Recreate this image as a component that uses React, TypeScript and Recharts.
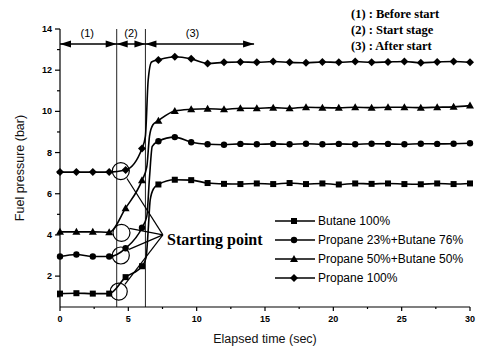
import React from 'react';
import { LineChart, Line, XAxis, YAxis, ReferenceLine, ReferenceDot } from 'recharts';

// sample times where the plotted symbols sit (every 1.2 s)
const markTimes = [0, 1.2, 2.4, 3.6, 4.8, 6, 7.2, 8.4, 9.6, 10.8, 12, 13.2, 14.4, 15.6, 16.8, 18, 19.2, 20.4, 21.6, 22.8, 24, 25.2, 26.4, 27.6, 28.8, 30];

const butane100 = [1.15, 1.17, 1.15, 1.15, 1.95, 2.48, 6.45, 6.68, 6.66, 6.52, 6.48, 6.47, 6.5, 6.47, 6.52, 6.47, 6.5, 6.45, 6.5, 6.48, 6.5, 6.47, 6.46, 6.5, 6.47, 6.5];
const propane23 = [2.95, 3.05, 2.95, 2.95, 3.35, 4.35, 8.55, 8.75, 8.5, 8.4, 8.38, 8.42, 8.4, 8.42, 8.4, 8.43, 8.4, 8.42, 8.4, 8.43, 8.42, 8.4, 8.43, 8.42, 8.43, 8.45];
const propane50 = [4.15, 4.15, 4.15, 4.13, 5.3, 6.65, 9.55, 10.02, 10.1, 10.13, 10.1, 10.15, 10.15, 10.18, 10.15, 10.2, 10.18, 10.17, 10.2, 10.18, 10.2, 10.2, 10.18, 10.2, 10.22, 10.28];
const propane100 = [7.05, 7.05, 7.05, 7.05, 7.15, 8.2, 12.5, 12.65, 12.55, 12.33, 12.38, 12.4, 12.38, 12.42, 12.38, 12.36, 12.4, 12.38, 12.42, 12.38, 12.4, 12.42, 12.36, 12.4, 12.42, 12.38];

// extra points (no symbol) on the fast pressure rise
const butaneRiseT = [6.3, 6.45, 6.6, 6.85];
const butaneRiseV = [2.9, 4.2, 5.7, 6.25];
const propane23RiseT = [6.35, 6.55, 6.75];
const propane23RiseV = [4.9, 6.8, 8.3];
const propane50RiseT = [6.35, 6.55, 6.8];
const propane50RiseV = [7.3, 8.8, 9.35];
const propane100RiseT = [6.25, 6.45, 6.7];
const propane100RiseV = [8.8, 11.5, 12.4];

// stage boundaries and starting points
const stageBounds = [4.15, 6.25];
const stageArrowEnd = 14.2;
const stageLabels = ['(1)', '(2)', '(3)'];
const stageLabelX = [2.0, 5.2, 9.7];
const startCircleX = [4.45, 4.5, 4.45, 4.3];
const startCircleY = [7.1, 4.1, 3.0, 1.25];

const yTicks = [1, 2, 3, 4, 5, 6, 7, 8, 9, 10, 11, 12, 13, 14];
const xTicks = [0, 2.5, 5, 7.5, 10, 12.5, 15, 17.5, 20, 22.5, 25, 27.5, 30];

const build = (vals: number[], riseT: number[], riseV: number[]) =>
  [
    ...markTimes.map((t, i) => ({ t, v: vals[i], mark: true })),
    ...riseT.map((t, i) => ({ t, v: riseV[i], mark: false })),
  ].sort((a, b) => a.t - b.t);

const series = [
  { name: 'Butane 100%', shape: 'square', data: build(butane100, butaneRiseT, butaneRiseV) },
  { name: 'Propane 23%+Butane 76%', shape: 'circle', data: build(propane23, propane23RiseT, propane23RiseV) },
  { name: 'Propane 50%+Butane 50%', shape: 'triangle', data: build(propane50, propane50RiseT, propane50RiseV) },
  { name: 'Propane 100%', shape: 'diamond', data: build(propane100, propane100RiseT, propane100RiseV) },
];

const SANS = '"Liberation Sans", Arial, sans-serif';
const SERIF = '"Liberation Serif", "Times New Roman", serif';

const Marker = ({ shape, cx, cy }: { shape: string; cx: number; cy: number }) => {
  if (shape === 'square') return <rect x={cx - 3} y={cy - 3} width={6} height={6} fill="#000" />;
  if (shape === 'circle') return <circle cx={cx} cy={cy} r={3.2} fill="#000" />;
  if (shape === 'triangle')
    return <polygon points={`${cx},${cy - 4} ${cx + 4},${cy + 3} ${cx - 4},${cy + 3}`} fill="#000" />;
  return <polygon points={`${cx},${cy - 4} ${cx + 4},${cy} ${cx},${cy + 4} ${cx - 4},${cy}`} fill="#000" />;
};

const YTick = ({ x, y, payload }: any) => {
  const major = payload.value % 2 === 0;
  return (
    <g>
      <line x1={x - (major ? 5 : 3)} x2={x} y1={y} y2={y} stroke="#000" strokeWidth={1.2} />
      {major && (
        <text x={x - 8} y={y + 3} textAnchor="end" fontSize={9} fontWeight="bold" fontFamily={SANS} fill="#000">
          {payload.value}
        </text>
      )}
    </g>
  );
};

const XTick = ({ x, y, payload }: any) => {
  const major = payload.value % 5 === 0;
  return (
    <g>
      <line x1={x} x2={x} y1={y} y2={y + (major ? 4 : 2)} stroke="#000" strokeWidth={1.2} />
      {major && (
        <text x={x} y={y + 15} textAnchor="middle" fontSize={9} fontWeight="bold" fontFamily={SANS} fill="#000">
          {payload.value}
        </text>
      )}
    </g>
  );
};

const YTitle = ({ viewBox }: any) => {
  const cx = viewBox.x + 10;
  const cy = viewBox.y + viewBox.height / 2;
  return (
    <text x={cx} y={cy} transform={`rotate(-90 ${cx} ${cy})`} textAnchor="middle" dominantBaseline="central"
      fontSize={12.5} fontFamily={SANS} fill="#111">
      Fuel pressure (bar)
    </text>
  );
};

const XTitle = ({ viewBox }: any) => (
  <text x={viewBox.x + viewBox.width / 2} y={viewBox.y + 36} textAnchor="middle" fontSize={12.5} fontFamily={SANS} fill="#111">
    Elapsed time (sec)
  </text>
);

const arrowHead = (dir: number) => (p: any) => (
  <polygon
    points={`${p.cx},${p.cy} ${p.cx - dir * 11},${p.cy - 3.5} ${p.cx - dir * 11},${p.cy + 3.5}`}
    fill="#000"
  />
);

const textShape = (label: string, size: number, family: string, weight: string, anchor: string) => (p: any) => (
  <text x={p.cx} y={p.cy} textAnchor={anchor} dominantBaseline="central" fontSize={size} fontFamily={family}
    fontWeight={weight} fill="#000">
    {label}
  </text>
);

const LegendBox = () => (
  <svg width={210} height={80} style={{ position: 'absolute', left: 270, top: 210 }}>
    {series.map((s, i) => {
      const y = 11 + i * 19;
      return (
        <g key={s.name}>
          <line x1={5} x2={45} y1={y} y2={y} stroke="#000" strokeWidth={1.4} />
          <Marker shape={s.shape} cx={24} cy={y} />
          <text x={48} y={y} dominantBaseline="central" fontSize={12} fontFamily={SANS} fill="#000">
            {s.name}
          </text>
        </g>
      );
    })}
  </svg>
);

const StageNotes = () => (
  <div style={{ position: 'absolute', left: 351, top: 6, fontFamily: SERIF, fontWeight: 'bold', fontSize: 12.5, lineHeight: '16px', color: '#000' }}>
    <div>(1) : Before start</div>
    <div>(2) : Start stage</div>
    <div>(3) : After start</div>
  </div>
);

export default function App() {
  const starting = { x: 7.53, y: 4.0 };
  const leaderEnds = [
    { x: 4.9, y: 6.74 },
    { x: 5.08, y: 4.32 },
    { x: 5.05, y: 3.3 },
    { x: 4.75, y: 1.6 },
  ];
  return (
    <div style={{ position: 'absolute', left: 0, top: 0, width: 484, height: 349, background: '#fff' }}>
      <LineChart width={484} height={349} margin={{ top: 29, right: 14, left: 10, bottom: 2 }}>
        <XAxis
          dataKey="t"
          type="number"
          domain={[0, 30]}
          ticks={xTicks}
          interval={0}
          height={40}
          tickSize={0}
          tickMargin={0}
          tick={<XTick />}
          tickLine={false}
          axisLine={{ stroke: '#000', strokeWidth: 1.2 }}
          label={<XTitle />}
        />
        <YAxis
          type="number"
          domain={[0.5, 14]}
          ticks={yTicks}
          interval={0}
          width={50}
          tickSize={0}
          tickMargin={0}
          tick={<YTick />}
          tickLine={false}
          axisLine={{ stroke: '#000', strokeWidth: 1.2 }}
          label={<YTitle />}
        />
        {stageBounds.map((b) => (
          <ReferenceLine key={b} x={b} stroke="#222" strokeWidth={1} />
        ))}
        <ReferenceLine segment={[{ x: 0, y: 13.27 }, { x: stageArrowEnd, y: 13.27 }]} stroke="#000" strokeWidth={1.4} />
        {[0, stageBounds[0], stageBounds[1]].map((x) => (
          <ReferenceDot key={`l${x}`} x={x} y={13.27} shape={arrowHead(-1)} />
        ))}
        {[stageBounds[0], stageBounds[1], stageArrowEnd].map((x) => (
          <ReferenceDot key={`r${x}`} x={x} y={13.27} shape={arrowHead(1)} />
        ))}
        {stageLabels.map((l, i) => (
          <ReferenceDot key={l} x={stageLabelX[i]} y={13.8} shape={textShape(l, 11, SANS, 'normal', 'middle')} />
        ))}
        {series.map((s) => (
          <Line
            key={s.name}
            data={s.data}
            dataKey="v"
            type="monotone"
            stroke="#000"
            strokeWidth={1.6}
            isAnimationActive={false}
            dot={(p: any) =>
              p.payload.mark ? <Marker key={p.index} shape={s.shape} cx={p.cx} cy={p.cy} /> : <g key={p.index} />
            }
            activeDot={false}
          />
        ))}
        {startCircleX.map((x, i) => (
          <ReferenceDot key={`c${i}`} x={x} y={startCircleY[i]} r={8.5} fill="none" stroke="#000" strokeWidth={1.2} />
        ))}
        {leaderEnds.map((e, i) => (
          <ReferenceLine key={`s${i}`} segment={[e, starting]} stroke="#000" strokeWidth={1.2} />
        ))}
        <ReferenceDot x={7.83} y={3.76} shape={textShape('Starting point', 16, SERIF, 'bold', 'start')} />
      </LineChart>
      <LegendBox />
      <StageNotes />
    </div>
  );
}
